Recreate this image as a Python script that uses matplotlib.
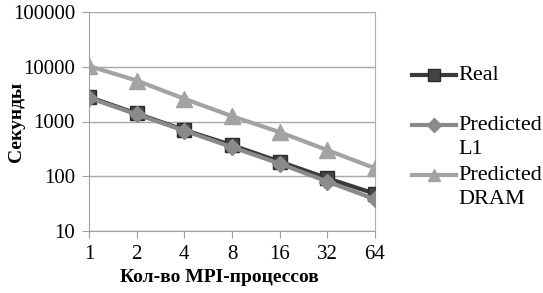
import numpy as np
import matplotlib.pyplot as plt
from matplotlib.lines import Line2D

procs = ["1", "2", "4", "8", "16", "32", "64"]
real = [2800, 1400, 700, 370, 185, 92, 48]
pred_l1 = [2700, 1350, 680, 340, 170, 80, 38]
pred_dram = [10300, 5600, 2600, 1250, 640, 300, 140]
names = ["Real", "Predicted\nL1", "Predicted\nDRAM"]

plt.rcParams["font.family"] = ["Liberation Serif", "DejaVu Serif"]

W, H = 543, 293
fig = plt.figure(figsize=(W/100, H/100), dpi=100)
ax = fig.add_axes([89/W, 1-231/H, (375-89)/W, (231-12)/H])

styles = [
    dict(color="#3a3a3a", marker="s", ms=10, mfc="#444444", mec="#2a2a2a", z=3),
    dict(color="#8a8a8a", marker="D", ms=8, mfc="#8a8a8a", mec="#8a8a8a", z=4),
    dict(color="#a3a3a3", marker="^", ms=11, mfc="#a3a3a3", mec="#a3a3a3", z=3),
]

x = np.arange(len(procs))
for vals, st in zip([real, pred_l1, pred_dram], styles):
    ax.plot(x, vals, color=st["color"], lw=3, marker=st["marker"], ms=st["ms"],
            mfc=st["mfc"], mec=st["mec"], zorder=st["z"])

ax.set_yscale("log")
ax.set_ylim(10, 100000)
ax.set_xlim(0, len(procs) - 1)
ax.set_yticks([10, 100, 1000, 10000, 100000])
ax.set_yticklabels(["10", "100", "1000", "10000", "100000"])
ax.minorticks_off()
ax.set_xticks(x)
ax.set_xticklabels(procs)
ax.tick_params(labelsize=15, length=5, color="#a0a0a0", direction="out", pad=5)
ax.yaxis.grid(True, color="#a8a8a8", lw=1)
ax.spines["top"].set_visible(False)
ax.spines["right"].set_color("#b0b0b0")
ax.spines["left"].set_color("#a0a0a0")
ax.spines["bottom"].set_color("#a0a0a0")

ax.set_xlabel("Кол-во MPI-процессов", fontsize=14, fontweight="bold")
ax.xaxis.set_label_coords((219-89)/(375-89), -(277-231)/(231-12), transform=ax.transAxes)
ax.xaxis.label.set_va("center")
ax.set_ylabel("Секунды", fontsize=14, fontweight="bold")
ax.yaxis.set_label_coords(-(89-16)/(375-89), 0.5)
ax.yaxis.label.set_va("center")

# legend drawn by hand so markers line up with the first text line
leg_y = [75, 125, 175]
for name, st, yy in zip(names, styles, leg_y):
    fy = 1 - yy/H
    fig.add_artist(Line2D([412/W, 456/W], [fy, fy], color=st["color"], lw=3,
                          transform=fig.transFigure))
    fig.add_artist(Line2D([434/W], [fy], color=st["color"], marker=st["marker"],
                          ms=st["ms"]*0.85, mfc=st["mfc"], mec=st["mec"],
                          transform=fig.transFigure))
    for i, part in enumerate(name.split("\n")):
        fig.text(458/W, 1 - (yy + i*25)/H, part, fontsize=16, va="center", ha="left")

fig.savefig("out.png", dpi=100)
